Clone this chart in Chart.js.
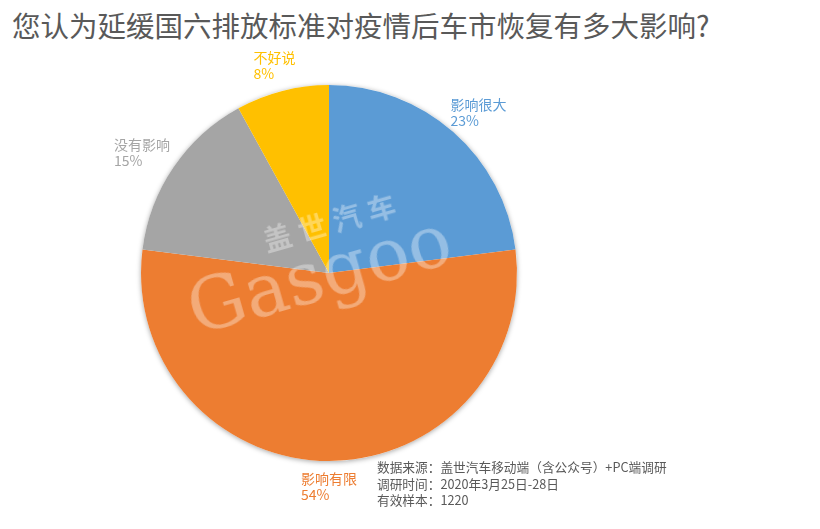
<!DOCTYPE html>
<html>
<head>
<meta charset="utf-8">
<script src="https://cdn.jsdelivr.net/npm/chart.js@4/dist/chart.umd.min.js"></script>
<style>
  html, body { margin: 0; padding: 0; background: #fff; }
  body { width: 820px; height: 529px; position: relative; overflow: hidden; font-family: "Noto Sans CJK SC", "Noto Sans", sans-serif; }
  #title { position: absolute; left: 12px; top: 4px; font-size: 28.5px; color: #595959; white-space: nowrap; letter-spacing: 0px; }
  #src { position: absolute; left: 377px; top: 459px; font-size: 12.7px; line-height: 16.5px; color: #595959; white-space: nowrap; }
  #wrap { position: absolute; left: 0; top: 0; width: 820px; height: 529px; }
  #wm { position: absolute; left: 170px; top: 205px; width: 280px; height: 140px; transform: rotate(-16deg); transform-origin: 50% 50%; color: rgba(255,255,255,0.35); pointer-events: none; }
  #wm .cn { position: absolute; left: 105px; top: 4px; font-size: 28px; font-weight: bold; letter-spacing: 8px; font-family: "Noto Sans CJK SC", sans-serif; }
  #wm .en { position: absolute; left: 14px; top: 30px; font-size: 72px; font-family: "DejaVu Serif", "Liberation Serif", serif; }
</style>
</head>
<body>
<div id="title">您认为延缓国六排放标准对疫情后车市恢复有多大影响?</div>
<div id="wrap"><canvas id="c" width="820" height="529"></canvas></div>
<div id="wm"><span class="cn">盖世汽车</span><span class="en">Gasgoo</span></div>
<div id="src">数据来源：盖世汽车移动端（含公众号）+PC端调研<br>调研时间：2020年3月25日-28日<br>有效样本：1220</div>
<script>
const labels = ['影响很大', '影响有限', '没有影响', '不好说']
const values = [23, 54, 15, 8]
const colors = ['#5B9BD5', '#ED7D31', '#A5A5A5', '#FFC000']

const shadowPlugin = {
  id: 'shadow',
  beforeDatasetsDraw(chart) {
    const a = chart.getDatasetMeta(0).data[0]
    if (!a) return
    const ctx = chart.ctx
    ctx.save()
    ctx.shadowColor = 'rgba(0,0,0,0.35)'
    ctx.shadowBlur = 5
    ctx.shadowOffsetY = 1
    ctx.fillStyle = '#ffffff'
    ctx.beginPath()
    ctx.arc(a.x, a.y, a.outerRadius, 0, Math.PI * 2)
    ctx.fill()
    ctx.restore()
  }
}

const outLabels = {
  id: 'outLabels',
  afterDatasetsDraw(chart) {
    const ctx = chart.ctx
    const meta = chart.getDatasetMeta(0)
    ctx.save()
    ctx.font = '14px "Noto Sans CJK SC", sans-serif'
    ctx.textBaseline = 'middle'
    ctx.textAlign = 'left'
    meta.data.forEach((arc, i) => {
      const mid = (arc.startAngle + arc.endAngle) / 2
      const dx = Math.cos(mid), dy = Math.sin(mid)
      const r = arc.outerRadius + 10
      const px = arc.x + dx * r, py = arc.y + dy * r
      const l1 = labels[i], l2 = values[i] + '%'
      const w = Math.max(ctx.measureText(l1).width, ctx.measureText(l2).width)
      const h = 32
      const cx = px + dx * w / 2, cy = py + dy * h / 2
      ctx.fillStyle = colors[i]
      ctx.fillText(l1, cx - w / 2, cy - 8)
      ctx.fillText(l2, cx - w / 2, cy + 8)
    })
    ctx.restore()
  }
}

new Chart(document.getElementById('c'), {
  type: 'pie',
  data: { labels, datasets: [{ data: values, backgroundColor: colors, borderWidth: 0 }] },
  options: {
    responsive: false,
    animation: false,
    layout: { padding: { left: 141, right: 303, top: 85, bottom: 68 } },
    plugins: { legend: { display: false }, tooltip: { enabled: false } }
  },
  plugins: [shadowPlugin, outLabels]
})
</script>
</body>
</html>
